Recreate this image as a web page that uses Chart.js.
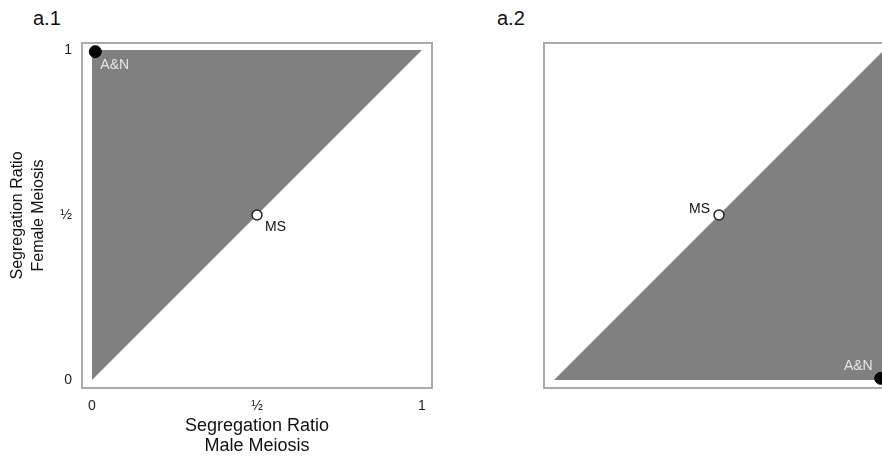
<!DOCTYPE html>
<html>
<head>
<meta charset="utf-8">
<script src="https://cdn.jsdelivr.net/npm/chart.js@4.4.0/dist/chart.umd.min.js"></script>
<style>
html, body { margin: 0; padding: 0; background: #fff; overflow: hidden; width: 882px; height: 464px; }
.panel { position: absolute; top: 0; height: 464px; }
.tag { position: absolute; font: 20px "Liberation Sans", Arial, sans-serif; color: #111; }
</style>
</head>
<body>
<div class="tag" style="left:33px;top:7px">a.1</div>
<div class="tag" style="left:497px;top:7px">a.2</div>
<div class="panel" style="left:0;width:450px"><canvas id="c1" width="450" height="464"></canvas></div>
<div class="panel" style="left:530px;width:380px"><canvas id="c2" width="380" height="464"></canvas></div>
<script>
// axis ticks
const tickValues = [0, 0.5, 1];
const tickLabels = ['0', '½', '1'];

// diagonal x = y, the edge of the shaded region
const diagX = [0, 1];
const diagY = [0, 1];

// named points
const pointNames = ['A&N', 'MS'];
const panel1X = [0.01, 0.5];
const panel1Y = [0.995, 0.5];
const panel2X = [0.99, 0.5];
const panel2Y = [0.005, 0.5];

const FONT = '"Liberation Sans", Arial, sans-serif';
const PAD = 10 / 330;

const framePlugin = {
    id: 'frame',
    beforeDatasetsDraw(chart) {
        const {ctx, chartArea: a} = chart;
        ctx.save();
        ctx.strokeStyle = '#ababab';
        ctx.lineWidth = 2;
        ctx.strokeRect(a.left, a.top, a.right - a.left, a.bottom - a.top);
        ctx.restore();
    }
};

// writes the point names next to the points
const namePlugin = {
    id: 'names',
    afterDatasetsDraw(chart, args, opts) {
        const {ctx} = chart;
        const meta = chart.getDatasetMeta(1);
        ctx.save();
        ctx.font = '14px ' + FONT;
        ctx.textBaseline = 'middle';
        meta.data.forEach((pt, i) => {
            ctx.fillStyle = opts.colors[i];
            ctx.textAlign = opts.align[i];
            ctx.fillText(pointNames[i], pt.x + opts.dx[i], pt.y + opts.dy[i]);
        });
        ctx.restore();
    }
};

function makeScales(showText, yWidth) {
    return {
        x: {
            type: 'linear',
            min: -PAD,
            max: 1 + PAD,
            grid: {display: false, drawTicks: false},
            border: {display: false},
            afterBuildTicks: s => { s.ticks = tickValues.map(v => ({value: v})); },
            ticks: {
                display: showText,
                autoSkip: false,
                maxRotation: 0,
                padding: 10,
                color: '#222',
                font: {size: 14, family: FONT},
                callback: (v, i) => tickLabels[i]
            },
            title: {
                display: showText,
                text: ['Segregation Ratio', 'Male Meiosis'],
                color: '#111',
                font: {size: 18, family: FONT, lineHeight: 1.1},
                padding: {top: 0, bottom: 8}
            },
            afterFit: s => { s.height = 76; }
        },
        y: {
            type: 'linear',
            min: -8 / 330,
            max: 1 + 7 / 330,
            grid: {display: false, drawTicks: false},
            border: {display: false},
            afterBuildTicks: s => { s.ticks = tickValues.map(v => ({value: v})); },
            ticks: {
                display: showText,
                autoSkip: false,
                padding: 10,
                color: '#222',
                font: {size: 14, family: FONT},
                callback: (v, i) => tickLabels[i]
            },
            title: {
                display: showText,
                text: ['Segregation Ratio', 'Female Meiosis'],
                color: '#111',
                font: {size: 16, family: FONT, lineHeight: 1.3},
                padding: {top: 7, bottom: 0}
            },
            afterFit: s => { s.width = yWidth; }
        }
    };
}

function makeChart(id, xs, ys, fillTo, showText, yWidth, rightPad, names) {
    return new Chart(document.getElementById(id), {
        type: 'scatter',
        data: {
            datasets: [{
                type: 'line',
                order: 2,
                data: diagX.map((x, i) => ({x: x, y: diagY[i]})),
                borderWidth: 0,
                pointRadius: 0,
                backgroundColor: '#808080',
                fill: {value: fillTo}
            }, {
                type: 'scatter',
                order: 1,
                clip: false,
                data: xs.map((x, i) => ({x: x, y: ys[i]})),
                pointRadius: [6, 5],
                pointBackgroundColor: ['#000', '#fff'],
                pointBorderColor: ['#000', '#222'],
                pointBorderWidth: [1, 1.5]
            }]
        },
        options: {
            responsive: false,
            animation: false,
            layout: {padding: {top: 43, right: rightPad, bottom: 0, left: 0}},
            scales: makeScales(showText, yWidth),
            plugins: {
                legend: {display: false},
                tooltip: {enabled: false},
                names: names
            }
        },
        plugins: [framePlugin, namePlugin]
    });
}

makeChart('c1', panel1X, panel1Y, 1, true, 82, 18, {
    colors: ['#e6e6e6', '#111'],
    align: ['left', 'left'],
    dx: [5, 8],
    dy: [13, 12]
});

makeChart('c2', panel2X, panel2Y, 0, false, 14, 16, {
    colors: ['#e6e6e6', '#111'],
    align: ['right', 'right'],
    dx: [-8, -9],
    dy: [-12, -6]
});
</script>
</body>
</html>
